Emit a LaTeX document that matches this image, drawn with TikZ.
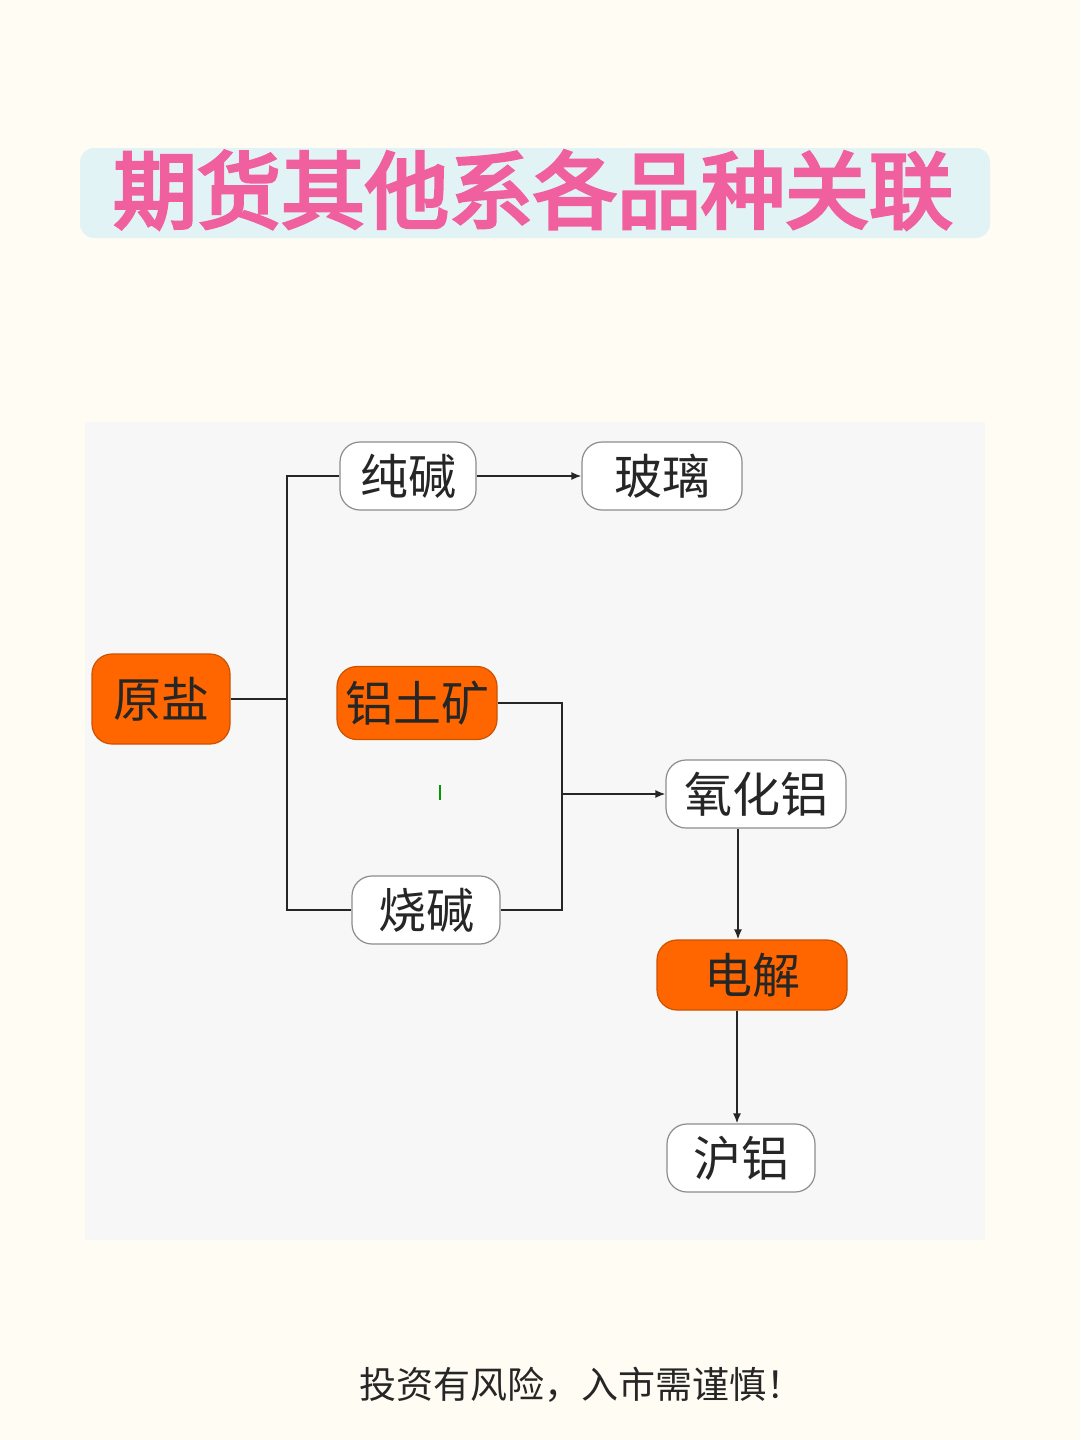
\documentclass[tikz,border=0pt]{standalone}
\usepackage{fontspec}
\setmainfont{Noto Sans CJK SC}
\newfontfamily\cjkbold[FakeBold=4]{Noto Sans CJK SC}
\definecolor{paper}{HTML}{FFFDF3}
\definecolor{panel}{HTML}{F7F7F7}
\definecolor{hot}{HTML}{FF6600}
\definecolor{titlebg}{HTML}{E2F3F5}
\definecolor{titlefg}{HTML}{F0609E}
\usetikzlibrary{positioning,arrows.meta}
\begin{document}
\begin{tikzpicture}[
        x=1pt, y=-1pt,
        font=\fontsize{48}{52}\selectfont,
        item/.style={draw=black!45, line width=1.2pt, rounded corners=20pt, fill=white,
            text=black!85, minimum height=68pt, inner xsep=14pt},
        hot/.style={item, fill=hot, draw=hot!80!black},
        link/.style={line width=1.6pt, black!85},
        arrow/.style={link, -{Latex[length=10pt,width=8pt]}}
    ]
    \useasboundingbox[fill=paper] (0,0) rectangle (1080,1440);
    % title
    \fill[titlebg, rounded corners=14pt] (80,148) rectangle (990,238);
    \node[text=titlefg, font=\cjkbold\fontsize{84}{88}\selectfont] (title) at (533,190) {期货其他系各品种关联};
    % panel
    \fill[panel] (85,422) rectangle (985,1240);
    % nodes
    \node[hot, minimum width=138pt, minimum height=90pt] (yuanyan) at (161,699) {原盐};
    \node[item, minimum width=136pt] (chunjian) at (408,476) {纯碱};
    \node[item, minimum width=160pt] (boli) at (662,476) {玻璃};
    \node[hot, minimum width=160pt, minimum height=73pt, inner xsep=4pt] (lvtukuang) at (417,703) {铝土矿};
    \node[item, minimum width=148pt] (shaojian) at (426,910) {烧碱};
    \node[item, minimum width=180pt, inner xsep=8pt] (yanghualv) at (756,794) {氧化铝};
    \node[hot, minimum width=190pt, minimum height=70pt] (dianjie) at (752,975) {电解};
    \node[item, minimum width=148pt] (hulv) at (741,1158) {沪铝};
    % connectors
    \coordinate (split) at (287,699);
    \coordinate (merge) at (562,794);
    \draw[link] (yuanyan.east) -- (split);
    \draw[link] (chunjian.west) -- (chunjian.west -| split) -- (shaojian.west -| split) -- (shaojian.west);
    \draw[arrow] (chunjian) -- (boli);
    \draw[link] (lvtukuang.east) -- (lvtukuang.east -| merge) -- (shaojian.east -| merge) -- (shaojian.east);
    \draw[arrow] (merge) -- (yanghualv.west);
    \draw[arrow] (yanghualv.south -| 738,0) -- (dianjie.north -| 738,0);
    \draw[arrow] (dianjie.south -| 737,0) -- (hulv.north -| 737,0);
    \draw[green!60!black, line width=1.5pt] (440,785) -- (440,800);
    % footer
    \node[font=\fontsize{37}{40}\selectfont, text=black!85] (note) at (581,1385) {投资有风险，入市需谨慎！};
\end{tikzpicture}
\end{document}
